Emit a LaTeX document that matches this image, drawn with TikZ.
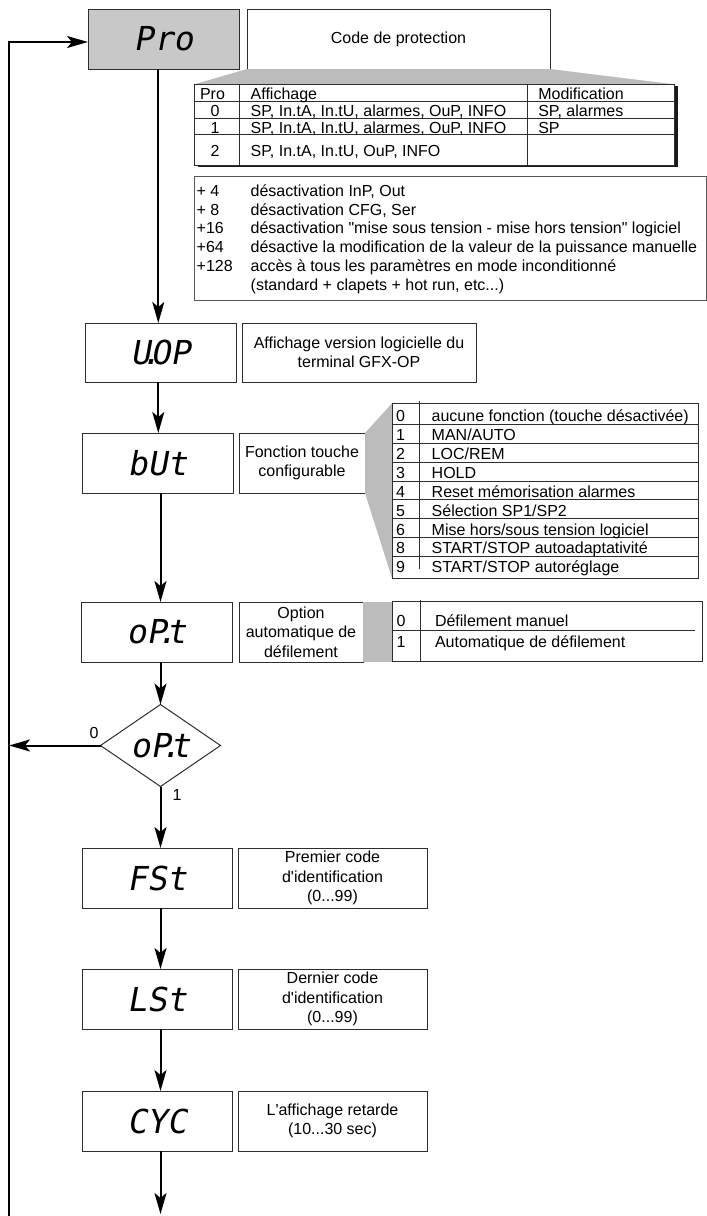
\documentclass[tikz,border=0pt]{standalone}
\usepackage{fontspec}
\setmainfont{Liberation Sans}[Ligatures=TeXOff]
\newfontfamily\segfont[FakeSlant=0.18]{DejaVu Sans Mono}
\usetikzlibrary{arrows.meta,shapes.geometric,shadows}
\definecolor{boxgray}{RGB}{200,200,200}
\definecolor{fangray}{RGB}{188,188,188}
\definecolor{edge}{RGB}{45,45,45}
\newcommand{\txtsize}{\fontsize{16}{19.5}\selectfont}
\newcommand{\segsize}{\segfont\fontsize{33}{33}\selectfont}
\begin{document}
\begin{tikzpicture}[x=1pt,y=-1pt,
  txt/.style={font=\txtsize, inner sep=0pt, outer sep=0pt},
  box/.style={draw=edge, line width=1pt, inner sep=0pt, outer sep=0pt, align=center, font=\txtsize},
  segtext/.style={font=\segsize},
  arr/.style={line width=2pt, -{Stealth[length=21pt,width=12pt,inset=5pt]}},
  rule/.style={draw=edge, line width=1pt}
]
\useasboundingbox (0,0) rectangle (707,1216);

% ---------- main column boxes ----------
\node[box, segtext, fill=boxgray, minimum width=151pt, minimum height=60pt] (pro) at (163.5,39) {Pro};
\node[box, minimum width=303pt, minimum height=60pt] (code) at (398.5,39) {Code de protection};

\node[box, segtext, minimum width=151pt, minimum height=59pt] (uop) at (160.5,352.5) {U\kern-.3em.\kern-.3em OP};
\node[box, minimum width=234pt, minimum height=59pt] (uopd) at (359,352.5) {Affichage version logicielle du\\terminal GFX-OP};

\node[box, segtext, minimum width=151pt, minimum height=60pt] (but) at (157.5,463) {bUt};
\node[box, minimum width=126pt, minimum height=60pt] (butd) at (302,463) {Fonction touche\\configurable};

\node[box, segtext, minimum width=151pt, minimum height=60pt] (opt) at (156.5,632) {oP\kern-.3em.\kern-.3em t};
\node[box, minimum width=124pt, minimum height=60pt] (optd) at (301,632) {Option\\automatique de\\défilement};

\node[draw=edge, line width=1pt, diamond, aspect=1.46, minimum width=120pt, minimum height=82pt, inner sep=0pt, outer sep=0pt, segtext] (dia) at (160.5,745.5) {oP\kern-.3em.\kern-.3em t};

\node[box, segtext, minimum width=150pt, minimum height=60pt] (fst) at (157,878) {FSt};
\node[box, minimum width=189pt, minimum height=60pt] (fstd) at (332.5,878) {Premier code\\d'identification\\(0...99)};

\node[box, segtext, minimum width=150pt, minimum height=60pt] (lst) at (157,999) {LSt};
\node[box, minimum width=189pt, minimum height=60pt] (lstd) at (332.5,999) {Dernier code\\d'identification\\(0...99)};

\node[box, segtext, minimum width=150pt, minimum height=60pt] (cyc) at (157,1121) {CYC};
\node[box, minimum width=189pt, minimum height=60pt] (cycd) at (332.5,1121) {L'affichage retarde\\(10...30 sec)};

% ---------- protection table ----------
\coordinate (ptNW) at (194.3,84.3);
\coordinate (ptNE) at (674,84.3);
\coordinate (ptSE) at (674,165);
\fill[fangray] (code.south west) -- (code.south east) -- (ptNE) -- (ptNW) -- cycle;
\path[rule, fill=white, drop shadow={shadow xshift=4pt, shadow yshift=-2pt, fill=black!90, opacity=1}] (ptNW) rectangle (ptSE);
\draw[rule] (239.3,84.3) -- (239.3,165);
\draw[rule] (527.3,84.3) -- (527.3,165);
\draw[rule] (194.3,101.7) -- (674,101.7);
\draw[rule] (194.3,118.3) -- (674,118.3);
\draw[rule] (194.3,134.8) -- (674,134.8);
\node[txt, anchor=base west] (ph1) at (200,99.5) {Pro};
\node[txt, anchor=base west] (ph2) at (250.7,99.5) {Affichage};
\node[txt, anchor=base west] (ph3) at (538.3,99.5) {Modification};
\node[txt, anchor=base] (pn0) at (215,116.5) {0};
\node[txt, anchor=base west] (pa0) at (250.7,116.5) {SP, In.tA, In.tU, alarmes, OuP, INFO};
\node[txt, anchor=base west] (pm0) at (538.3,116.5) {SP, alarmes};
\node[txt, anchor=base] (pn1) at (215,133) {1};
\node[txt, anchor=base west] (pa1) at (250.7,133) {SP, In.tA, In.tU, alarmes, OuP, INFO};
\node[txt, anchor=base west] (pm1) at (538.3,133) {SP};
\node[txt, anchor=base] (pn2) at (215,156) {2};
\node[txt, anchor=base west] (pa2) at (250.7,156) {SP, In.tA, In.tU, OuP, INFO};

% ---------- notes box ----------
\draw[draw=black!65, line width=1pt] (194.3,176) rectangle (706,300);
\node[txt, anchor=base west] (nn1) at (196.7,196.3) {+ 4};
\node[txt, anchor=base west] (nt1) at (250.7,196.3) {désactivation InP, Out};
\node[txt, anchor=base west] (nn2) at (196.7,215.1) {+ 8};
\node[txt, anchor=base west] (nt2) at (250.7,215.1) {désactivation CFG, Ser};
\node[txt, anchor=base west] (nn3) at (196.7,233.9) {+16};
\node[txt, anchor=base west] (nt3) at (250.7,233.9) {désactivation "mise sous tension - mise hors tension" logiciel};
\node[txt, anchor=base west] (nn4) at (196.7,252.7) {+64};
\node[txt, anchor=base west] (nt4) at (250.7,252.7) {désactive la modification de la valeur de la puissance manuelle};
\node[txt, anchor=base west] (nn5) at (196.7,271.5) {+128};
\node[txt, anchor=base west] (nt5) at (250.7,271.5) {accès à tous les paramètres en mode inconditionné};
\node[txt, anchor=base west] (nt6) at (250.7,290.3) {(standard + clapets + hot run, etc...)};

% ---------- bUt table ----------
\coordinate (btNW) at (392,403.3);
\coordinate (btSW) at (392,578.3);
\coordinate (btSE) at (698,578.3);
\fill[fangray] (butd.north east) -- (btNW) -- (btSW) -- (butd.south east) -- cycle;
\draw[rule] (btNW) rectangle (btSE);
\draw[rule] (419.3,400.5) -- (419.3,569);
\foreach \i in {0,...,7}{
  \draw[rule] (392,424.3+18.9*\i) -- (698,424.3+18.9*\i);
}
\foreach \n/\t [count=\k from 0] in {{0}/{aucune fonction (touche désactivée)},{1}/{MAN/AUTO},{2}/{LOC/REM},{3}/{HOLD},{4}/{Reset mémorisation alarmes},{5}/{Sélection SP1/SP2},{6}/{Mise hors/sous tension logiciel},{8}/{START/STOP autoadaptativité},{9}/{START/STOP autoréglage}}{
  \node[txt, anchor=base] (bn\k) at (400.5,421.6+18.9*\k) {\n};
  \node[txt, anchor=base west] (bt\k) at (431.7,421.6+18.9*\k) {\t};
}

% ---------- oP.t table ----------
\fill[fangray] (optd.north east) rectangle (392.7,661.7);
\draw[rule] (392.7,601.7) rectangle (702.7,661.7);
\draw[rule] (420,600) -- (420,661.7);
\draw[rule] (392.7,630) -- (695,630);
\node[txt, anchor=base] (on0) at (401,626.7) {0};
\node[txt, anchor=base west] (ot0) at (435,626.7) {Défilement manuel};
\node[txt, anchor=base] (on1) at (401,647.4) {1};
\node[txt, anchor=base west] (ot1) at (435,647.4) {Automatique de défilement};

% ---------- connectors ----------
\coordinate (axA) at (158.3,0);
\coordinate (axB) at (160.5,0);
\coordinate (leftTop) at (9,42);
\coordinate (leftBot) at (9,1216);
\coordinate (botEnd) at (160.5,1214);
\draw[arr] (leftBot) -- (leftTop) -- (leftTop -| pro.west);
\draw[arr] (pro.south -| axA) -- (uop.north -| axA);
\draw[arr] (uop.south -| axA) -- (but.north -| axA);
\draw[arr] (but.south -| axB) -- (opt.north -| axB);
\draw[arr] (opt.south -| axB) -- (dia.north);
\draw[arr] (dia.south) -- (fst.north -| dia.south);
\draw[arr] (dia.west) -- (dia.west -| leftTop);
\draw[arr] (fst.south -| axB) -- (lst.north -| axB);
\draw[arr] (lst.south -| axB) -- (cyc.north -| axB);
\draw[arr] (cyc.south -| axB) -- (botEnd);
\node[txt] (lab0) at (94,733) {0};
\node[txt] (lab1) at (177,795) {1};
\end{tikzpicture}
\end{document}
